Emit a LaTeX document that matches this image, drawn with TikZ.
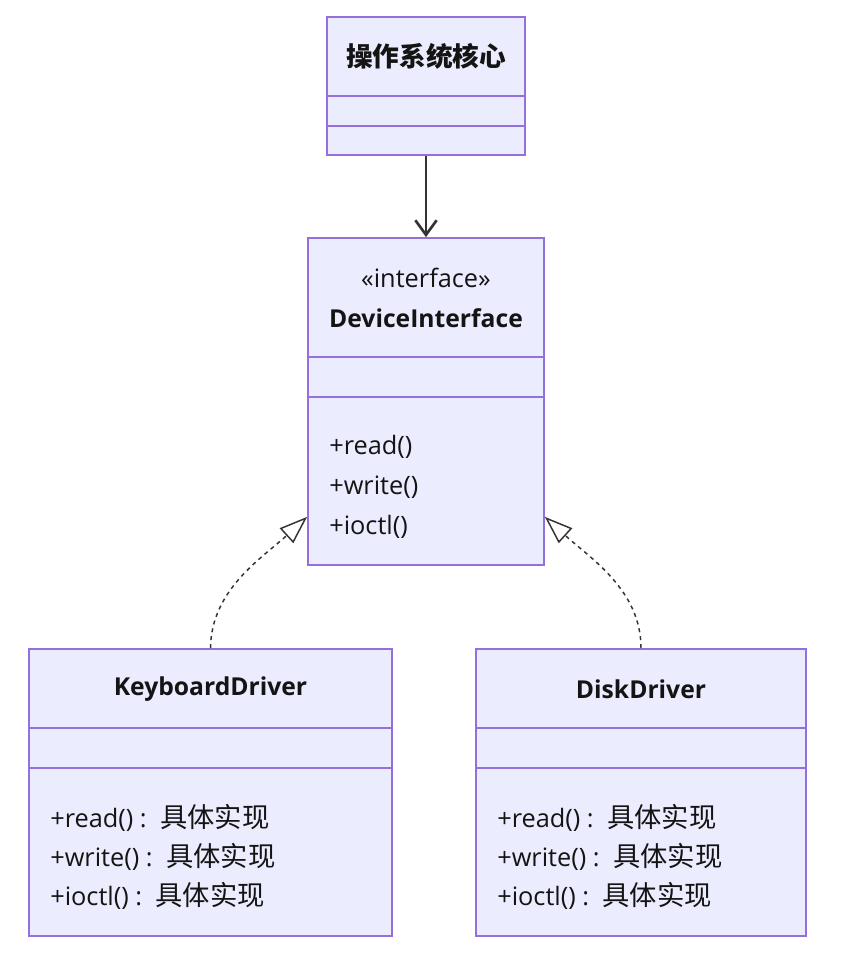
\documentclass[tikz,border=0pt]{standalone}
\usepackage{fontspec}
\setmainfont{Open Sans}
\newfontfamily\cjk{Noto Sans CJK SC}
\usetikzlibrary{arrows.meta}
\definecolor{boxfill}{HTML}{ECECFF}
\definecolor{boxline}{HTML}{9370DB}
\definecolor{txt}{HTML}{141414}
\definecolor{edge}{HTML}{333333}
\newcommand{\zh}[1]{\hspace{3.5pt}{\cjk\fontsize{20.5pt}{22pt}\selectfont #1}}
\begin{document}
\begin{tikzpicture}[x=0.75pt,y=-0.75pt,
  umlbox/.style={draw=boxline,fill=boxfill,line width=1.3pt,inner sep=0pt},
  divider/.style={draw=boxline,line width=1.3pt},
  title/.style={inner sep=0pt,text=txt,font=\fontsize{18.5pt}{22pt}\selectfont\bfseries},
  stereo/.style={inner sep=0pt,text=txt,font=\fontsize{19pt}{22pt}\selectfont},
  member/.style={inner sep=0pt,anchor=west,text=txt,font=\fontsize{19pt}{22pt}\selectfont},
  assoc/.style={draw=edge,line width=1.5pt,-{Straight Barb[length=11pt,width=16pt,line width=2pt]}},
  realize/.style={draw=edge,line width=1.1pt,dash pattern=on 3pt off 3pt,
     -{Triangle[open,fill=white,length=21pt,width=15pt,line width=1.1pt]}}]
\useasboundingbox (0,0) rectangle (840,971);

% boxes
\node[umlbox,minimum width=148.5pt,minimum height=103.5pt] (top) at (426,86) {};
\node[umlbox,minimum width=177pt,minimum height=245.25pt] (di) at (426,401.5) {};
\node[umlbox,minimum width=272.25pt,minimum height=215.25pt] (kb) at (210.5,792.5) {};
\node[umlbox,minimum width=247.5pt,minimum height=215.25pt] (dd) at (641,792.5) {};

% dividers
\draw[divider] (top.west |- 0,96) -- (top.east |- 0,96);
\draw[divider] (top.west |- 0,126) -- (top.east |- 0,126);
\draw[divider] (di.west |- 0,357) -- (di.east |- 0,357);
\draw[divider] (di.west |- 0,397) -- (di.east |- 0,397);
\draw[divider] (kb.west |- 0,728) -- (kb.east |- 0,728);
\draw[divider] (kb.west |- 0,768) -- (kb.east |- 0,768);
\draw[divider] (dd.west |- 0,728) -- (dd.east |- 0,728);
\draw[divider] (dd.west |- 0,768) -- (dd.east |- 0,768);

% titles
\node[title] (toptitle) at (426,56) {{\cjk\fontsize{20pt}{22pt}\selectfont\bfseries 操作系统核心}};
\node[stereo] (distereo) at (426,278) {«interface»};
\node[title] (dititle) at (426,318) {DeviceInterface};
\node[title] (kbtitle) at (210.5,689) {KeyboardDriver};
\node[title] (ddtitle) at (641,689) {DiskDriver};

% members
\node[member] (dim1) at (329,447) {+read()};
\node[member] (dim2) at (329,487) {+write()};
\node[member] (dim3) at (329,527) {+ioctl()};
\node[member] (kbm1) at (50,818) {+read() : \zh{具体实现}};
\node[member] (kbm2) at (50,857) {+write() : \zh{具体实现}};
\node[member] (kbm3) at (50,896) {+ioctl() : \zh{具体实现}};
\node[member] (ddm1) at (497,818) {+read() : \zh{具体实现}};
\node[member] (ddm2) at (497,857) {+write() : \zh{具体实现}};
\node[member] (ddm3) at (497,896) {+ioctl() : \zh{具体实现}};

% connectors
\coordinate (dil) at ([yshift=36.75pt]di.south west);
\coordinate (dir) at ([yshift=36.75pt]di.south east);
\draw[assoc] (top.south) -- (di.north);
\draw[realize] (kb.north) .. controls (211,590) and (262,558) .. (dil);
\draw[realize] (dd.north) .. controls (641,590) and (590,558) .. (dir);
\end{tikzpicture}
\end{document}
